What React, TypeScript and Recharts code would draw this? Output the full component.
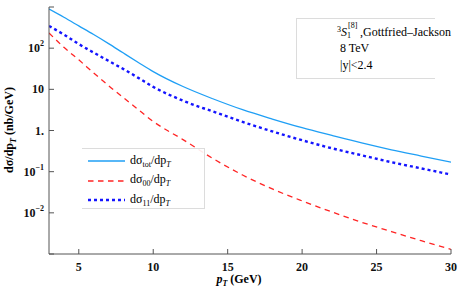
import { LineChart, Line, XAxis, YAxis } from 'recharts';

// transverse momentum grid (GeV)
const pT = [3, 4, 5, 6, 7, 8, 9, 10, 12, 14, 16, 18, 20, 22, 24, 26, 28, 30];
// dσ/dpT in nb/GeV
const sigmaTot = [890, 562, 347, 214, 129, 76, 45, 27, 11.7, 5.9, 3.2, 1.9, 1.17, 0.76, 0.5, 0.34, 0.24, 0.17];
const sigma00 = [234, 105, 52, 25, 12.3, 6.3, 3.2, 1.66, 0.6, 0.21, 0.083, 0.038, 0.0195, 0.0105, 0.0059, 0.0035, 0.0021, 0.0013];
const sigma11 = [347, 214, 126, 78, 49, 31, 19, 11.5, 5.3, 2.9, 1.62, 0.95, 0.58, 0.37, 0.25, 0.17, 0.12, 0.085];

const xMajor = [5, 10, 15, 20, 25, 30];
const xMinor = Array.from({ length: 28 }, (_, i) => i + 3).filter((v) => !xMajor.includes(v));
const yMajor = [1e-3, 1e-2, 1e-1, 1, 10, 100, 1000];
const yMinor: number[] = [];
yMajor.slice(0, -1).forEach((d) => {
  for (let m = 2; m <= 9; m++) yMinor.push(m * d);
});
const yLabels: Record<number, [string, string]> = {
  [-2]: ['10', '−2'],
  [-1]: ['10', '−1'],
  0: ['1.', ''],
  1: ['10', ''],
  2: ['10', '2'],
};

const data = pT.map((x, i) => ({ pT: x, tot: sigmaTot[i], s00: sigma00[i], s11: sigma11[i] }));

const FONT = '"Liberation Serif", "DejaVu Serif", serif';
const FRAME = '#555';

// each tick draws its own inward mark; len/dx/dy give its direction
function Tick(props: any) {
  const { x, y, payload, dx, dy, len, label } = props;
  const px = Number(x);
  const py = Number(y);
  const w = dx ? len : 1;
  const h = dy ? len : 1;
  const rx = dx < 0 ? px - len : px - (dx ? 0 : 0.5);
  const ry = dy < 0 ? py - len : py - (dy ? 0 : 0.5);
  let text = null;
  if (label === 'x') {
    text = (
      <text x={px} y={py + 17} textAnchor="middle" fontFamily={FONT} fontWeight="bold" fontSize={12} fill="#111">
        {payload.value}
      </text>
    );
  } else if (label === 'y') {
    const lab = yLabels[Math.round(Math.log10(payload.value))];
    if (lab)
      text = (
        <text x={px - 5} y={py + 4} textAnchor="end" fontFamily={FONT} fontWeight="bold" fontSize={12} fill="#111">
          {lab[0]}
          {lab[1] && (
            <tspan dy={-6} fontSize={8}>
              {lab[1]}
            </tspan>
          )}
        </text>
      );
  }
  return (
    <g>
      <rect x={rx} y={ry} width={w} height={h} fill={FRAME} stroke="none" />
      {text}
    </g>
  );
}

const xCommon = {
  type: 'number' as const,
  domain: [3, 30],
  interval: 0,
  allowDataOverflow: true,
  axisLine: { stroke: FRAME },
  tickLine: false,
  tickSize: 0,
  tickMargin: 0,
};
const yCommon = {
  type: 'number' as const,
  scale: 'log' as const,
  domain: [1e-3, 1e3],
  interval: 0,
  allowDataOverflow: true,
  axisLine: { stroke: FRAME },
  tickLine: false,
  tickSize: 0,
  tickMargin: 0,
};

const legendItems = [
  { sub: 'tot', color: '#1f9ff5', dash: undefined as string | undefined, width: 1.3 },
  { sub: '00', color: '#ff2424', dash: '5.5 4.5', width: 1.3 },
  { sub: '11', color: '#1414ff', dash: '3 3', width: 2.4 },
];

export default function App() {
  return (
    <div style={{ position: 'absolute', left: 0, top: 0, width: 464, height: 297, background: '#fff' }}>
      <LineChart width={464} height={297} data={data} margin={{ top: 7, right: 13, bottom: 0, left: 0 }}>
        {/* minor axes first so they sit on the frame edge */}
        <XAxis {...xCommon} xAxisId="bMinor" height={0} ticks={xMinor} tick={<Tick dy={-1} len={2.5} />} />
        <XAxis {...xCommon} dataKey="pT" height={43} ticks={xMajor} tick={<Tick dy={-1} len={5} label="x" />} />
        <XAxis {...xCommon} xAxisId="tMinor" orientation="top" height={0} ticks={xMinor} tick={<Tick dy={1} len={2.5} />} />
        <XAxis {...xCommon} xAxisId="tMajor" orientation="top" height={0} ticks={xMajor} tick={<Tick dy={1} len={5} />} />
        <YAxis {...yCommon} yAxisId="lMinor" width={0} ticks={yMinor} tick={<Tick dx={1} len={2.5} />} />
        <YAxis {...yCommon} width={49} ticks={yMajor} tick={<Tick dx={1} len={5} label="y" />} />
        <YAxis {...yCommon} yAxisId="rMinor" orientation="right" width={0} ticks={yMinor} tick={<Tick dx={-1} len={2.5} />} />
        <YAxis {...yCommon} yAxisId="rMajor" orientation="right" width={0} ticks={yMajor} tick={<Tick dx={-1} len={5} />} />
        <Line type="monotone" dataKey="tot" stroke="#1f9ff5" strokeWidth={1.3} dot={false} isAnimationActive={false} />
        <Line type="monotone" dataKey="s00" stroke="#ff2424" strokeWidth={1.3} strokeDasharray="5.5 4.5" dot={false} isAnimationActive={false} />
        <Line type="monotone" dataKey="s11" stroke="#1414ff" strokeWidth={2.4} strokeDasharray="3 3" dot={false} isAnimationActive={false} />
      </LineChart>

      {/* axis titles */}
      <div
        style={{
          position: 'absolute',
          left: 239,
          top: 272,
          transform: 'translateX(-50%)',
          fontFamily: FONT,
          fontWeight: 'bold',
          fontSize: 12,
          whiteSpace: 'nowrap',
        }}
      >
        <i>p</i>
        <sub style={{ fontSize: 8, fontStyle: 'italic' }}>T</sub>
        {'  '}(GeV)
      </div>
      <div
        style={{
          position: 'absolute',
          left: 10,
          top: 130,
          transform: 'translate(-50%, -50%) rotate(-90deg)',
          fontFamily: FONT,
          fontWeight: 'bold',
          fontSize: 12,
          whiteSpace: 'nowrap',
        }}
      >
        dσ/dp<sub style={{ fontSize: 8, fontStyle: 'italic' }}>T</sub> (nb/GeV)
      </div>

      {/* legend */}
      <div
        style={{
          position: 'absolute',
          left: 82,
          top: 148,
          width: 122,
          height: 59,
          borderTop: '1px solid #dcdcdc',
          borderBottom: '1px solid #dcdcdc',
          borderRight: '1px solid #dcdcdc',
          background: 'rgba(255,255,255,0.9)',
          fontFamily: FONT,
          fontSize: 12,
        }}
      >
        {legendItems.map((it, i) => (
          <div key={it.sub} style={{ position: 'absolute', left: 6, top: 4 + i * 19.5, height: 16, display: 'flex', alignItems: 'center', whiteSpace: 'nowrap' }}>
            <svg width={37} height={6} style={{ marginRight: 5 }}>
              <line x1={0} x2={37} y1={3} y2={3} stroke={it.color} strokeWidth={it.width} strokeDasharray={it.dash} />
            </svg>
            <span>
              dσ<sub style={{ fontSize: 8 }}>{it.sub}</sub>/dp<sub style={{ fontSize: 8, fontStyle: 'italic' }}>T</sub>
            </span>
          </div>
        ))}
      </div>

      {/* annotation */}
      <div
        style={{
          position: 'absolute',
          left: 296,
          top: 18,
          width: 138,
          height: 59,
          borderTop: '1px solid #dcdcdc',
          borderBottom: '1px solid #dcdcdc',
          borderLeft: '1px solid #dcdcdc',
          background: 'rgba(255,255,255,0.9)',
          fontFamily: FONT,
          fontSize: 12,
        }}
      >
        <div style={{ position: 'absolute', left: 40, top: 5, height: 16, whiteSpace: 'nowrap', display: 'flex', alignItems: 'flex-end' }}>
          <span style={{ fontSize: 8, alignSelf: 'flex-start', marginTop: 1 }}>3</span>
          <i>S</i>
          <span style={{ display: 'inline-block', position: 'relative', width: 13, height: 16 }}>
            <span style={{ position: 'absolute', left: 0, top: 7, fontSize: 8 }}>1</span>
            <span style={{ position: 'absolute', left: 1, top: -3, fontSize: 8 }}>[8]</span>
          </span>
          <span>,Gottfried–Jackson</span>
        </div>
        <div style={{ position: 'absolute', left: 43, top: 22 }}>8 TeV</div>
        <div style={{ position: 'absolute', left: 43, top: 39 }}>|y|&lt;2.4</div>
      </div>
    </div>
  );
}
